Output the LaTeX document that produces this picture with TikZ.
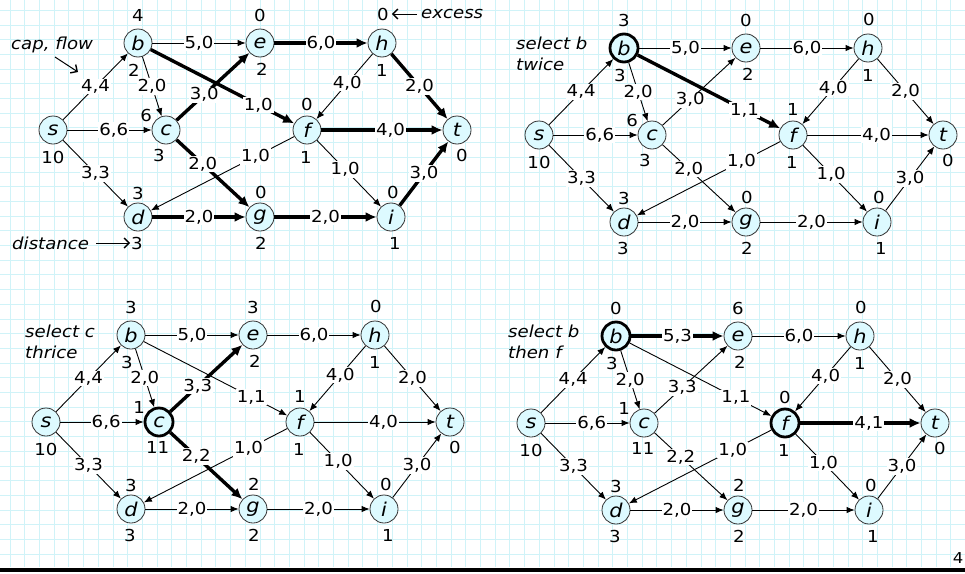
\documentclass[tikz,border=0pt]{standalone}
\usepackage{fontspec}
\setmainfont{DejaVu Sans}[FakeStretch=1.1]
\usetikzlibrary{arrows.meta}
\definecolor{nodefill}{RGB}{221,250,255}
\definecolor{gridc}{RGB}{208,243,248}
\tikzset{
  vtx/.style={circle, draw=black!80, line width=0.8pt, fill=nodefill, minimum size=28pt, inner sep=0pt, font=\fontsize{19}{22}\selectfont\itshape},
  sel/.style={line width=2.8pt, draw=black},
  arc/.style={line width=0.9pt, -{Latex[length=8pt,width=6.5pt]}},
  hot/.style={line width=3.4pt, -{Latex[length=11pt,width=10pt]}},
  lbl/.style={fill=white, inner sep=1pt, font=\fontsize{16.5}{19}\selectfont},
  num/.style={inner sep=0pt, font=\fontsize{16.5}{19}\selectfont},
  note/.style={inner sep=0pt, font=\fontsize{16.5}{21}\selectfont\itshape, align=left},
  pointer/.style={line width=1pt, -{Straight Barb[length=5pt,width=10pt,line width=1.4pt]}},
  E-be/.style={arc}, E-bf/.style={arc}, E-ce/.style={arc}, E-cg/.style={arc},
  E-eh/.style={arc}, E-ht/.style={arc}, E-ft/.style={arc}, E-dg/.style={arc},
  E-gi/.style={arc}, E-it/.style={arc},
}
\newcommand\gnodes[3]{%
  \node[vtx] (s) at (0,0) {s};
  \node[vtx,#1] (b) at (85,-87) {b};
  \node[vtx,#2] (c) at (113,0) {c};
  \node[vtx] (d) at (85,87) {d};
  \node[vtx] (e) at (207,-87) {e};
  \node[vtx,#3] (f) at (254,0) {f};
  \node[vtx] (g) at (207,87) {g};
  \node[vtx] (h) at (329,-87) {h};
  \node[vtx] (i) at (338,87) {i};
  \node[vtx] (t) at (404,0) {t};
}
\newcommand\gedges{%
  \draw[arc] (s) -- node[lbl,pos=.5]{4,4} (b);
  \draw[arc] (s) -- node[lbl,pos=.55]{6,6} (c);
  \draw[arc] (s) -- node[lbl,pos=.5]{3,3} (d);
  \draw[E-be] (b) -- node[lbl,pos=.5]{\Lbe} (e);
  \draw[arc] (b) -- node[lbl,pos=.5]{2,0} (c);
  \draw[E-bf] (b) -- node[lbl,pos=.75]{\Lbf} (f);
  \draw[E-ce] (c) -- node[lbl,pos=.38]{\Lce} (e);
  \draw[E-cg] (c) -- node[lbl,pos=.36]{\Lcg} (g);
  \draw[E-eh] (e) -- node[lbl,pos=.5]{6,0} (h);
  \draw[arc] (h) -- node[lbl,pos=.45]{4,0} (f);
  \draw[E-ht] (h) -- node[lbl,pos=.5]{2,0} (t);
  \draw[E-ft] (f) -- node[lbl,pos=.57]{\Lft} (t);
  \draw[arc] (f) -- node[lbl,pos=.27]{1,0} (d);
  \draw[arc] (f) -- node[lbl,pos=.44]{1,0} (i);
  \draw[E-dg] (d) -- node[lbl,pos=.5]{2,0} (g);
  \draw[E-gi] (g) -- node[lbl,pos=.5]{2,0} (i);
  \draw[E-it] (i) -- node[lbl,pos=.5]{3,0} (t);
}
% #1 b excess, #2 e excess, #3 c excess, #4 f excess, #5 g excess, #6 b distance, #7 c distance
\newcommand\nums[7]{%
  \node[num] (nbx) at (85,-115) {#1};
  \node[num] (nbd) at (81,-60) {#6};
  \node[num] (nex) at (207,-115) {#2};
  \node[num] (ned) at (209,-61) {2};
  \node[num] (nhx) at (330,-116) {0};
  \node[num] (nhd) at (329,-60) {1};
  \node[num] (nsd) at (0,27) {10};
  \node[num,anchor=east] (ncx) at (99,-15) {#3};
  \node[num,anchor=west] (ncd) at (100,25) {#7};
  \node[num] (nfx) at (254,-26) {#4};
  \node[num] (nfd) at (253,27) {1};
  \node[num] (ntd) at (409,25) {0};
  \node[num] (ndx) at (85,63) {3};
  \node[num] (ndd) at (84,113) {3};
  \node[num] (ngx) at (208,62) {#5};
  \node[num] (ngd) at (208,113) {2};
  \node[num] (nix) at (340,62) {0};
  \node[num] (nid) at (342,113) {1};
}
\begin{document}
\begin{tikzpicture}[x=1pt,y=-1pt]
\useasboundingbox (0,0) rectangle (965,573);
\fill[white] (0,0) rectangle (965,573);
\foreach \k in {0,...,65} \draw[gridc, line width=0.8pt] ({10+14.7*\k},0) -- ({10+14.7*\k},567);
\foreach \k in {0,...,37} \draw[gridc, line width=0.8pt] (0,{10.2+14.7*\k}) -- (965,{10.2+14.7*\k});
\fill[black] (0,568) rectangle (965,571.5);
\node[num, font=\fontsize{15}{18}\selectfont] (pg) at (958,558) {4};

% panel 1
\begin{scope}[shift={(53,130)}, name prefix=p1-,
  E-bf/.style={hot}, E-ce/.style={hot}, E-cg/.style={hot}, E-eh/.style={hot},
  E-ht/.style={hot}, E-ft/.style={hot}, E-dg/.style={hot}, E-gi/.style={hot}, E-it/.style={hot}]
  \def\Lbe{5,0}\def\Lbf{1,0}\def\Lce{3,0}\def\Lcg{2,0}\def\Lft{4,0}
  \gnodes{}{}{}
  \gedges
  \nums{4}{0}{6}{0}{0}{2}{3}
\end{scope}
\node[note, anchor=west] (capflow) at (11,45) {cap, flow};
\coordinate (cfA) at (55,57);
\coordinate (cfB) at (78,72);
\draw[pointer] (cfA) -- (cfB);
\node[note, anchor=west] (excess) at (421,14) {excess};
\draw[pointer] ([xshift=-4pt]excess.west) -- ([xshift=3pt]p1-nhx.east);
\node[note, anchor=west] (dist) at (12,243) {distance};
\draw[pointer] ([xshift=7pt]dist.east) -- ([xshift=-1pt]p1-ndd.west);

% panel 2
\begin{scope}[shift={(539,135)}, name prefix=p2-, E-bf/.style={hot}]
  \def\Lbe{5,0}\def\Lbf{1,1}\def\Lce{3,0}\def\Lcg{2,0}\def\Lft{4,0}
  \gnodes{sel}{}{}
  \gedges
  \nums{3}{0}{6}{1}{0}{3}{3}
\end{scope}
\node[note, anchor=west] (sel2) at (516,54) {select b\\twice};

% panel 3
\begin{scope}[shift={(46,422)}, name prefix=p3-, E-ce/.style={hot}, E-cg/.style={hot}]
  \def\Lbe{5,0}\def\Lbf{1,1}\def\Lce{3,3}\def\Lcg{2,2}\def\Lft{4,0}
  \gnodes{}{sel}{}
  \gedges
  \nums{3}{3}{1}{1}{2}{3}{11}
\end{scope}
\node[note, anchor=west] (sel3) at (25,342) {select c\\thrice};

% panel 4
\begin{scope}[shift={(531,423)}, name prefix=p4-, E-be/.style={hot}, E-ft/.style={hot}]
  \def\Lbe{5,3}\def\Lbf{1,1}\def\Lce{3,3}\def\Lcg{2,2}\def\Lft{4,1}
  \gnodes{sel}{}{sel}
  \gedges
  \nums{0}{6}{1}{0}{2}{3}{11}
\end{scope}
\node[note, anchor=west] (sel4) at (508,342) {select b\\then f};
\end{tikzpicture}
\end{document}
